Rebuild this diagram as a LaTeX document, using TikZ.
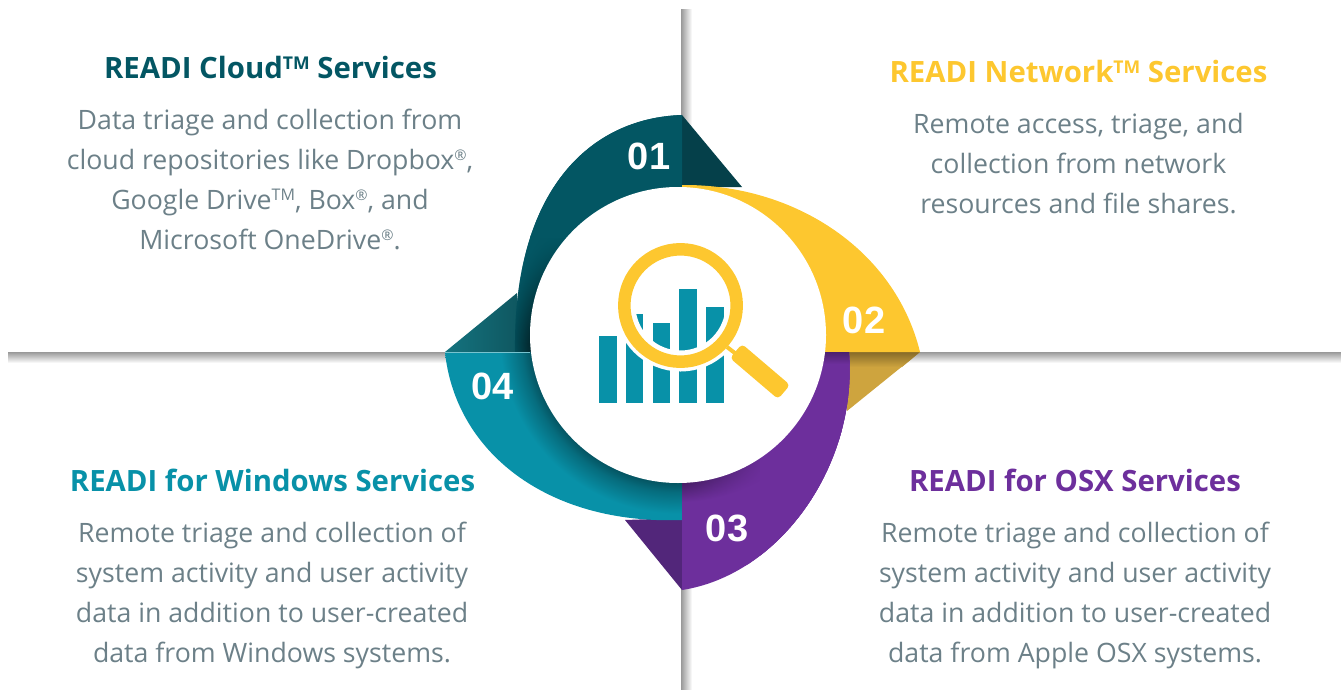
\documentclass[tikz,border=0pt]{standalone}
\usepackage{fontspec}
\setmainfont{Open Sans}
\newfontfamily\numfont{Liberation Sans}
\usetikzlibrary{fadings}
\definecolor{cA}{HTML}{035663}
\definecolor{cB}{HTML}{FDC72F}
\definecolor{cC}{HTML}{6D2F9C}
\definecolor{cD}{HTML}{0891A8}
\definecolor{fA}{HTML}{05404A}
\definecolor{fB}{HTML}{CEA43E}
\definecolor{fC}{HTML}{52267A}
\definecolor{fD}{HTML}{14737F}
\definecolor{bodygray}{HTML}{6C8088}
\newcommand{\tmmark}{\raisebox{0.33em}{\fontsize{0.6em}{0.6em}\selectfont TM}}
\newcommand{\regmark}{\raisebox{0.32em}{\fontsize{0.55em}{0.55em}\selectfont ®}}
% 25bp = 240 units on the drawn circle, so the disc edge (148) is at 15.4bp
\pgfdeclareradialshading{ringD}{\pgfpoint{0bp}{0bp}}{%
  color(0bp)=(black!42!cD);color(15.4bp)=(black!42!cD);color(16.4bp)=(black!25!cD);color(18.6bp)=(cD);color(50bp)=(cD)}
\pgfdeclareradialshading{ringA}{\pgfpoint{0bp}{0bp}}{%
  color(0bp)=(black!55!cA);color(15.4bp)=(black!55!cA);color(17.6bp)=(cA);color(50bp)=(cA)}
\pgfdeclareradialshading{ringC}{\pgfpoint{0bp}{0bp}}{%
  color(0bp)=(black!35!cC);color(15.4bp)=(black!35!cC);color(17.4bp)=(cC);color(50bp)=(cC)}
\tikzset{
  bodytext/.style={font=\fontsize{26.7}{40}\selectfont,text=bodygray,align=center,inner sep=0pt},
  titletext/.style={font=\fontsize{29.35}{36}\selectfont\bfseries,align=center,inner sep=0pt},
  numtext/.style={font=\fontsize{38}{38}\selectfont\numfont\bfseries,text=white,inner sep=0pt},
  barshape/.style={fill=cD}
}
\begin{document}
\begin{tikzpicture}[x=1pt,y=-1pt]
\useasboundingbox (0,0) rectangle (1341,690);
% axes
\shade[top color=black!40,bottom color=white] (8,352) rectangle (1341,363);
\shade[left color=black!40,right color=white] (681,10) rectangle (692,690);
% flaps
\fill[fA] (682,115) -- (742,187) -- (682,187) -- cycle;
\fill[fB] (920,352) -- (847,411) -- (840,352) -- cycle;
\shade[top color=black!35!fB,bottom color=fB] (845,352) -- (920,352) -- (902,367) -- (845,367) -- cycle;
\fill[fC] (682,590) -- (625,520) -- (682,518) -- cycle;
\shade[left color=fD,right color=black!25!fD] (445,352) -- (517,293) -- (520,352) -- cycle;
% ribbons
\begin{scope}
  \clip (682,115) .. controls (590,118) and (513,190) .. (515,352) -- (682,352) -- cycle;
  \shade[shading=ringA] (678,335) circle (240);
  \fill[cA,path fading=south] (505,235) rectangle (600,345);
  \fill[cA] (505,110) rectangle (690,238);
\end{scope}
\fill[cB] (682,185) .. controls (795,184) and (895,250) .. (920,352) -- (682,352) -- cycle;
\begin{scope}
  \clip (849,352) .. controls (858,465) and (780,575) .. (682,590) -- (682,352) -- cycle;
  \fill[cC] (680,350) rectangle (870,600);
  \shade[shading=ringC] (678,335) circle (240);
  \fill[cC] (690,350) rectangle (870,440);
  \shade[top color=black!30!cC,bottom color=cC] (815,352) rectangle (855,364);
  \fill[cC,path fading=west] (682,440) rectangle (770,530);
  \fill[cC] (760,430) rectangle (870,600);
\end{scope}
\begin{scope}
  \clip (445,352) .. controls (455,450) and (545,525) .. (682,520) -- (682,352) -- cycle;
  \shade[shading=ringD] (678,335) circle (240);
\end{scope}
\draw[cD!55!white,line width=0.7] (445,352) -- (530,352);
% centre disc
\fill[white] (678,335) circle (148);
% chart
\fill[barshape] (599,336) rectangle (617,403);
\fill[barshape] (626,314) rectangle (643,403);
\fill[barshape] (653,323) rectangle (670,403);
\fill[barshape] (679,289) rectangle (697,403);
\fill[barshape] (706,307) rectangle (724,403);
\draw[white,line width=21] (680.5,305.5) circle (55.5);
\draw[white,line width=10] (727,347) -- (740,357);
\draw[cB,line width=12.5] (680.5,305.5) circle (56.2);
\draw[cB,line width=4] (727,347) -- (740,357);
\fill[cB,draw=cB,line width=8,line join=round] (742.4,349.6) -- (735.6,357.6) -- (777.6,393.4) -- (784.4,385.4) -- cycle;
% numbers
\node[numtext] (n1) at (649,156) {01};
\node[numtext] (n2) at (864,320) {02};
\node[numtext] (n3) at (727,528) {03};
\node[numtext] (n4) at (493,386) {04};
% titles
\node[titletext,text=cA,anchor=base] (t1) at (270.5,79) {READI Cloud\tmmark{} Services};
\node[titletext,text=cB,anchor=base] (t2) at (1078.5,83) {READI Network\tmmark{} Services};
\node[titletext,text=cC,anchor=base] (t3) at (1075,491) {READI for OSX Services};
\node[titletext,text=cD,anchor=base] (t4) at (272.5,491) {READI for Windows Services};
% bodies
\node[bodytext] (b1) at (270,179) {Data triage and collection from\\cloud repositories like Dropbox\regmark,\\Google Drive\tmmark, Box\regmark, and\\Microsoft OneDrive\regmark.};
\node[bodytext] (b2) at (1078.5,164) {Remote access, triage, and\\collection from network\\resources and file shares.};
\node[bodytext] (b3) at (1075,595) {Remote triage and collection of\\system activity and user activity\\data in addition to user-created\\data from Apple OSX systems.};
\node[bodytext] (b4) at (272,595) {Remote triage and collection of\\system activity and user activity\\data in addition to user-created\\data from Windows systems.};
\end{tikzpicture}
\end{document}
